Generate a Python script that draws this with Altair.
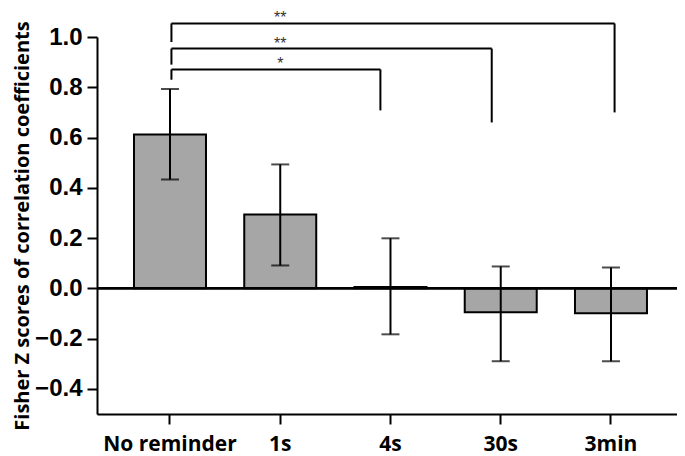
import altair as alt
import pandas as pd

categories = ["No reminder", "1s", "4s", "30s", "3min"]
means = [0.612, 0.294, 0.005, -0.095, -0.099]
err_low = [0.433, 0.091, -0.183, -0.290, -0.290]
err_high = [0.793, 0.493, 0.199, 0.087, 0.083]

y_ticks = [-0.4, -0.2, 0.0, 0.2, 0.4, 0.6, 0.8, 1.0]

bracket_left = ["No reminder", "No reminder", "No reminder"]
bracket_right = ["4s", "30s", "3min"]
bracket_y = [0.871, 0.954, 1.054]
bracket_left_bottom = [0.83, 0.89, 0.98]
bracket_right_bottom = [0.708, 0.66, 0.70]
bracket_labels = ["*", "**", "**"]
bracket_label_at = ["1s", "1s", "1s"]
bracket_end_band = [0.36, 0.375, 0.55]

df = pd.DataFrame({"cat": categories, "mean": means, "lo": err_low, "hi": err_high})

xscale = alt.Scale(domain=categories, paddingInner=0.347, paddingOuter=0.304, align=0.552)
yscale = alt.Scale(domain=[-0.5, 1.0], nice=False, zero=False)

x_enc = alt.X("cat:N", scale=xscale, sort=categories,
              axis=alt.Axis(title=None, labelAngle=0, labelFont="Open Sans",
                            labelFontWeight="bold", labelFontSize=21, labelColor="black",
                            tickSize=10, tickWidth=2, tickColor="black",
                            domainWidth=2, domainColor="black", labelPadding=9, grid=False))
y_enc = alt.Y("mean:Q", scale=yscale,
              axis=alt.Axis(values=y_ticks, format=".1f", title="Fisher Z scores of correlation coefficients",
                            titleFont="Open Sans", titleFontWeight="bold", titleFontSize=20,
                            titleColor="black", titlePadding=2,
                            labelFont="Liberation Sans", labelFontWeight="bold", labelFontSize=24,
                            labelColor="black", labelPadding=5, tickSize=10, tickWidth=2,
                            tickColor="black", domainWidth=2, domainColor="black", grid=False))


def xc(field, **kw):
    return alt.X(field, scale=xscale, sort=categories, **kw)


def yc(field):
    return alt.Y(field, scale=yscale)


base = alt.Chart(df)

bars = base.mark_bar(fill="#a6a6a6", stroke="black", strokeWidth=2).encode(x=x_enc, y=y_enc)

zero = alt.Chart(df).mark_rule(color="black", strokeWidth=2).encode(y=alt.datum(0))

err = base.mark_rule(color="black", strokeWidth=2).encode(
    x=xc("cat:N"), y=yc("lo:Q"), y2="hi:Q")
cap_lo = base.mark_tick(color="black", size=18, thickness=2).encode(
    x=xc("cat:N"), y=yc("lo:Q"))
cap_hi = base.mark_tick(color="black", size=18, thickness=2).encode(
    x=xc("cat:N"), y=yc("hi:Q"))

layers = [bars, zero, err, cap_lo, cap_hi]

for i in range(len(bracket_labels)):
    bdf = pd.DataFrame({"l": [bracket_left[i]], "r": [bracket_right[i]], "y": [bracket_y[i]],
                        "lb": [bracket_left_bottom[i]], "rb": [bracket_right_bottom[i]],
                        "lab": [bracket_labels[i]], "at": [bracket_label_at[i]]})
    bb = alt.Chart(bdf)
    horiz = bb.mark_rule(color="black", strokeWidth=2).encode(
        x=xc("l:N", bandPosition=0.52),
        x2=alt.X2("r:N", bandPosition=bracket_end_band[i]),
        y=yc("y:Q"))
    lleg = bb.mark_rule(color="black", strokeWidth=2).encode(
        x=xc("l:N", bandPosition=0.52),
        y=yc("lb:Q"), y2="y:Q")
    rleg = bb.mark_rule(color="black", strokeWidth=2).encode(
        x=xc("r:N", bandPosition=bracket_end_band[i]),
        y=yc("rb:Q"), y2="y:Q")
    star = bb.mark_text(fontSize=16, color="#333333", baseline="alphabetic", dy=0,
                        font="Liberation Sans").encode(
        x=xc("at:N"), y=yc("y:Q"), text="lab:N")
    layers += [horiz, lleg, rleg, star]

chart = alt.layer(*layers).properties(
    width=580, height=377,
    background="white",
    autosize=alt.AutoSizeParams(type="none"),
    padding={"left": 89, "top": 29, "right": 0, "bottom": 42},
).configure_view(strokeWidth=0, stroke="transparent").configure_axis(grid=False)

chart.save("out.html", embed_options={"renderer": "svg", "actions": False})
